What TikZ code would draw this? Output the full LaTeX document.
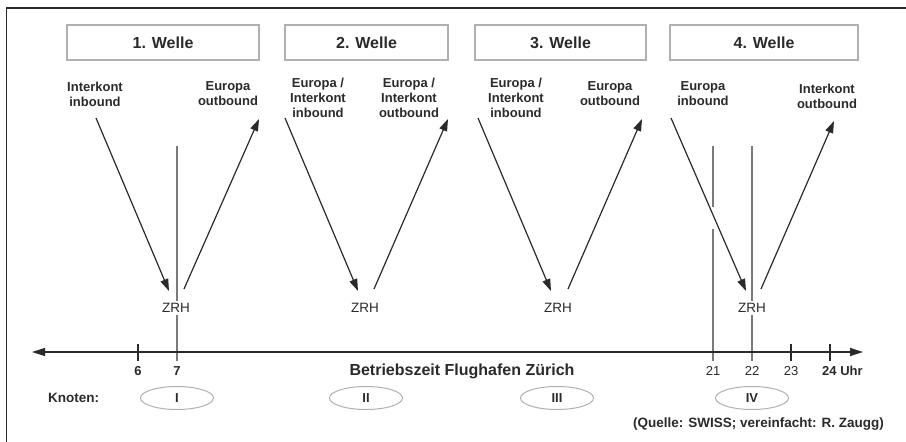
\documentclass[tikz,border=0pt]{standalone}
\usepackage{fontspec}
\setmainfont{Liberation Sans}
\usetikzlibrary{arrows.meta,shapes.geometric}
\definecolor{ink}{HTML}{2A2A2A}
\definecolor{vline}{HTML}{7A7A7A}
\definecolor{boxline}{HTML}{B0B0B0}
\begin{document}
\begin{tikzpicture}[x=1pt,y=-1pt,
  wavebox/.style={draw=boxline,line width=1.2pt,minimum width=#1,minimum height=35pt,inner sep=0pt,
    font=\fontsize{16}{18}\selectfont\bfseries,text=ink},
  lbl/.style={align=center,font=\fontsize{13}{15}\selectfont\bfseries,text=ink,inner sep=0pt},
  zrh/.style={fill=white,font=\fontsize{13.5}{15}\selectfont,text=ink,inner sep=2pt},
  flow/.style={draw=ink,line width=1.2pt,-{Triangle[length=12pt,width=8pt]}},
  vbar/.style={draw=vline,line width=1.3pt},
  knot/.style={draw=boxline,ellipse,line width=1pt,minimum width=73pt,minimum height=23pt,inner sep=0pt,
    font=\fontsize{13}{15}\selectfont\bfseries,text=ink},
  tick/.style={draw=ink,line width=1.2pt},
  ticklbl/.style={font=\fontsize{13}{15}\selectfont,text=ink,inner sep=0pt},
]
\useasboundingbox (0,0) rectangle (906,442);
\draw[ink,line width=1.5pt] (6.5,442) -- (6.5,8) -- (906,8);

% wave boxes
\node[wavebox=192pt] (w1) at (163,42.5) {1. Welle};
\node[wavebox=163pt] (w2) at (366.5,42.5) {2. Welle};
\node[wavebox=171pt] (w3) at (560.5,42.5) {3. Welle};
\node[wavebox=188pt] (w4) at (764,42.5) {4. Welle};

% labels
\node[lbl] (l1a) at (95,94) {Interkont\\inbound};
\node[lbl] (l1b) at (228,94) {Europa\\outbound};
\node[lbl] (l2a) at (318,98) {Europa /\\Interkont\\inbound};
\node[lbl] (l2b) at (409,98) {Europa /\\Interkont\\outbound};
\node[lbl] (l3a) at (516,98) {Europa /\\Interkont\\inbound};
\node[lbl] (l3b) at (610,94) {Europa\\outbound};
\node[lbl] (l4a) at (703,94) {Europa\\inbound};
\node[lbl] (l4b) at (827,96) {Interkont\\outbound};

% vertical bars
\coordinate (v7t) at (177,146);
\coordinate (v7b) at (177,361);
\coordinate (v22t) at (752,146);
\coordinate (v22b) at (752,361);
\coordinate (v21t) at (713,146);
\coordinate (v21m1) at (713,207);
\coordinate (v21m2) at (713,229);
\coordinate (v21b) at (713,361);
\draw[vbar] (v7t) -- (v7b);
\draw[vbar] (v22t) -- (v22b);
\draw[vbar] (v21t) -- (v21m1);
\draw[vbar] (v21m2) -- (v21b);

% ZRH nodes
\node[zrh] (z1) at (176,308) {ZRH};
\node[zrh] (z2) at (365,308) {ZRH};
\node[zrh] (z3) at (558,308) {ZRH};
\node[zrh] (z4) at (752,308) {ZRH};

% flow arrows
\coordinate (a1s) at (96,118);  \coordinate (a1e) at (169,291);
\coordinate (b1s) at (184,289); \coordinate (b1e) at (259,119);
\coordinate (a2s) at (285,118); \coordinate (a2e) at (358,291);
\coordinate (b2s) at (374,289); \coordinate (b2e) at (448,119);
\coordinate (a3s) at (478,118); \coordinate (a3e) at (551,291);
\coordinate (b3s) at (568,289); \coordinate (b3e) at (642,119);
\coordinate (a4s) at (671,118); \coordinate (a4e) at (746,291);
\coordinate (b4s) at (761,289); \coordinate (b4e) at (834,121);
\draw[flow] (a1s) -- (a1e);
\draw[flow] (b1s) -- (b1e);
\draw[flow] (a2s) -- (a2e);
\draw[flow] (b2s) -- (b2e);
\draw[flow] (a3s) -- (a3e);
\draw[flow] (b3s) -- (b3e);
\draw[flow] (a4s) -- (a4e);
\draw[flow] (b4s) -- (b4e);

% axis
\coordinate (axl) at (32,352);
\coordinate (axr) at (863,352);
\draw[ink,line width=1.3pt,{Triangle[length=13pt,width=8pt]}-{Triangle[length=13pt,width=8pt]}] (axl) -- (axr);
\coordinate (t6) at (138,344); \coordinate (t6b) at (138,361);
\coordinate (t23) at (791,344); \coordinate (t23b) at (791,361);
\coordinate (t24) at (830,344); \coordinate (t24b) at (830,361);
\draw[tick] (t6) -- (t6b);
\draw[tick] (t23) -- (t23b);
\draw[tick] (t24) -- (t24b);

\node[ticklbl,font=\fontsize{13}{15}\selectfont\bfseries] (n6) at (138,371) {6};
\node[ticklbl,font=\fontsize{13}{15}\selectfont\bfseries] (n7) at (177,371) {7};
\node[ticklbl] (n21) at (713,371) {21};
\node[ticklbl] (n22) at (752,371) {22};
\node[ticklbl] (n23) at (791,371) {23};
\node[ticklbl,anchor=west,font=\fontsize{13}{15}\selectfont\bfseries] (n24) at (822,371) {24 Uhr};
\node[font=\fontsize{16}{18}\selectfont\bfseries,text=ink,inner sep=0pt] (bz) at (462,371) {Betriebszeit Flughafen Zürich};

% knots
\node[font=\fontsize{13.5}{15}\selectfont\bfseries,text=ink,anchor=west,inner sep=0pt] (kn) at (48,398) {Knoten:};
\node[knot] (k1) at (177,398) {I};
\node[knot] (k2) at (366,398) {II};
\node[knot] (k3) at (557,398) {III};
\node[knot] (k4) at (752,398) {IV};

\node[font=\fontsize{13.5}{15}\selectfont\bfseries,text=ink,anchor=east,inner sep=0pt] (src) at (884,424) {(Quelle: SWISS; vereinfacht: R. Zaugg)};
\end{tikzpicture}
\end{document}
